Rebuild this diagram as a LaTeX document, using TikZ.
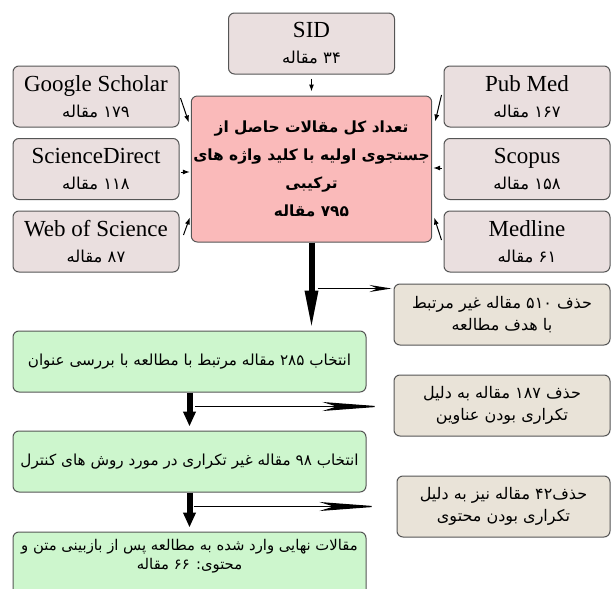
\documentclass[tikz,border=0pt]{standalone}
\usepackage{fontspec}
\setmainfont{Liberation Serif}
\newfontfamily\fa[Script=Arabic]{DejaVu Sans}
\TeXXeTstate=1
\usetikzlibrary{arrows.meta,calc}
\definecolor{srcfill}{RGB}{234,223,223}
\definecolor{mainfill}{RGB}{250,186,186}
\definecolor{selfill}{RGB}{205,246,205}
\definecolor{delfill}{RGB}{233,227,216}
\definecolor{edge}{RGB}{85,85,85}
\newcommand\fatxt[1]{{\fa\beginR #1\endR}}
\newcommand\srcnum[1]{{\fontsize{8.2}{12}\selectfont\fatxt{#1}}}

\begin{document}
\begin{tikzpicture}[x=0.5pt,y=-0.5pt,>=Stealth,
  box/.style={draw=edge,line width=0.5pt,rounded corners=3pt,align=center,inner sep=1pt},
  srcbox/.style={box,fill=srcfill,minimum width=83pt,minimum height=30.5pt,font=\fontsize{11.5}{13}\selectfont},
  mainbox/.style={box,fill=mainfill,minimum width=117.5pt,minimum height=73pt,font=\fa\bfseries\fontsize{7.7}{14}\selectfont},
  selbox/.style={box,fill=selfill,minimum width=176.5pt,minimum height=30.5pt,font=\fa\fontsize{7.6}{9.5}\selectfont},
  delbox/.style={box,fill=delfill,minimum width=108pt,minimum height=30.5pt,font=\fa\fontsize{8}{11}\selectfont},
  feed/.style={->,>={Latex[length=3.5pt,width=2.5pt]},line width=0.5pt},
  flow/.style={line width=3pt},
  drop/.style={line width=0.6pt}]
\useasboundingbox (0,0) rectangle (611,589);
% databases
\node[srcbox] (sid) at (311.5,43.5) {SID\\\srcnum{۳۴ مقاله}};
\node[srcbox] (gs) at (96,96.5) {Google Scholar\\\srcnum{۱۷۹ مقاله}};
\node[srcbox] (sd) at (96,169) {ScienceDirect\\\srcnum{۱۱۸ مقاله}};
\node[srcbox] (wos) at (96,241.5) {Web of Science\\\srcnum{۸۷ مقاله}};
\node[srcbox] (pm) at (527,96.5) {Pub Med\\\srcnum{۱۶۷ مقاله}};
\node[srcbox] (sc) at (527,169) {Scopus\\\srcnum{۱۵۸ مقاله}};
\node[srcbox] (ml) at (527,241.5) {Medline\\\srcnum{۶۱ مقاله}};
% total
\node[mainbox] (main) at (311.5,169) {\fatxt{تعداد کل مقالات حاصل از}\\\fatxt{جستجوی اولیه با کلید واژه های}\\\fatxt{ترکیبی}\\\fatxt{۷۹۵ مقاله}};
% screening
\node[selbox] (g1) at (189.5,361.5) {\fatxt{انتخاب ۲۸۵ مقاله مرتبط با مطالعه با بررسی عنوان}};
\node[selbox] (g2) at (189.5,461.5) {\fatxt{انتخاب ۹۸ مقاله غیر تکراری در مورد روش های کنترل}};
\node[selbox,minimum height=34pt] (g3) at (189.5,566) {};
\node[font=\fa\fontsize{7.4}{9.5}\selectfont,align=center] (g3t) at (189.5,556) {\fatxt{مقالات نهایی وارد شده به مطالعه پس از بازبینی متن و}\\\fatxt{محتوی: ۶۶ مقاله}};
\node[delbox] (r1) at (502,314.5) {\fatxt{حذف ۵۱۰ مقاله غیر مرتبط}\\\fatxt{با هدف مطالعه}};
\node[delbox] (r2) at (502,405.5) {\fatxt{حذف ۱۸۷ مقاله به دلیل}\\\fatxt{تکراری بودن عناوین}};
\node[delbox,minimum width=106.5pt] (r3) at (503.5,506.5) {\fatxt{حذف۴۲ مقاله نیز به دلیل}\\\fatxt{تکراری بودن محتوی}};
% inputs
\draw[feed] ($(sid.south)+(0,4)$) -- ($(main.north)+(0,-4)$);
\draw[feed] ($(gs.east)+(1,1.5)$) -- ($(main.north west)+(-2,27)$);
\draw[feed] ($(sd.east)+(1,3)$) -- ($(main.west)+(-1,3)$);
\draw[feed] ($(wos.east)+(4,-6.5)$) -- ($(main.south west)+(-1,-25)$);
\draw[feed] ($(pm.west)+(-2,-1.5)$) -- ($(main.north east)+(3,26)$);
\draw[feed] ($(sc.west)+(-2,-1)$) -- ($(main.east)+(1,-1)$);
\draw[feed] ($(ml.west)+(-2,-1.5)$) -- ($(main.south east)+(2,-25)$);
% main flow
\draw[flow,-{Triangle[length=20pt,width=6pt]}] (main.south) -- (main.south |- g1.north);
\draw[flow,-{Triangle[length=7.5pt,width=6pt]},shorten >=2pt] (g1.south) -- (g2.north);
\draw[flow,-{Triangle[length=7.5pt,width=6pt]},shorten >=2pt] (g2.south) -- (g3.north);
% exclusions
\coordinate (j1) at ($(main.south)+(6,46)$);
\coordinate (j2) at ($(g1.south)+(5.5,14)$);
\coordinate (j3) at ($(g2.south)+(4,14)$);
\draw[drop,-{Stealth[length=11pt,width=3.5pt,inset=4pt]},shorten >=1pt] (j1) -- (j1 -| r1.west);
\draw[drop,-{Stealth[length=30pt,width=4.5pt,inset=7pt]},shorten >=5.5pt] (j2) -- (j2 -| r2.west);
\draw[drop,-{Stealth[length=30pt,width=4.5pt,inset=7pt]},shorten >=8.5pt] (j3) -- (j3 -| r3.west);
\end{tikzpicture}
\end{document}
